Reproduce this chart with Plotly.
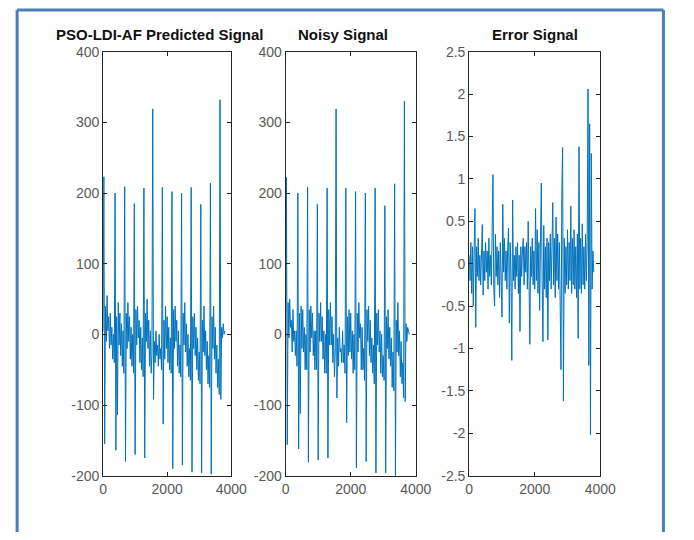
import plotly.graph_objects as go

# ---------------- data ----------------
sample_step = 25  # samples between listed values
predicted = [
    5, 223, -155, 40, -10, 55, 5, 25, -20, 30, -15, 10, -35, 0, -40,
    200, -164, 25, -114, 45, -15, 30, -30, 15, -45, 5, -55,
    209, -180, 30, -20, 45, -10, 25, -35, 10, -45, 0, -55,
    185, -170, 35, -15, 40, -5, 20, -40, 10, -50, -5, -60,
    207, -175, 30, -10, 50, -20, 20, -45, 5, -55, -30,
    319, -92, -10, -40, 5, -30, -15, -45, 0, -35, -20, -50,
    208, -127, 20, -35, 40, -20, 25, -40, 10, -50, -5, -55,
    202, -190, 35, -20, 40, -10, 20, -45, 5, -55, -15, -60,
    200, -185, 30, -15, 45, -25, 15, -45, 0, -60, -20, -65,
    208, -195, 25, -20, 30, -30, 10, -50, -5, -65, -25, -70,
    184, -196, 20, -25, 40, -30, 5, -50, -10, -70, -30, -75,
    214, -198, 25, -20, 40, -35, 10, -55, -15, -75, -35, -85,
    332, -92, 10, -5, 15, 0, 5,
]
noisy = [
    0, 222, -156, 45, -5, 50, 10, 20, -25, 35, -10, 5, -30, 5, -45,
    200, -162, 30, -112, 40, -20, 35, -25, 10, -50, 0, -50,
    208, -181, 35, -25, 40, -5, 30, -30, 5, -50, 5, -50,
    184, -178, 30, -10, 45, -10, 25, -35, 5, -55, 0, -55,
    207, -175, 35, -15, 45, -15, 25, -40, 0, -60, -25,
    319, -90, -5, -45, 10, -25, -20, -40, 5, -40, -15, -55,
    207, -125, 25, -30, 35, -25, 30, -35, 5, -55, 0, -50,
    202, -189, 30, -25, 45, -5, 15, -50, 10, -50, -20, -65,
    200, -180, 35, -10, 40, -30, 20, -40, -5, -55, -15, -70,
    207, -196, 30, -15, 35, -25, 5, -55, 0, -60, -30, -65,
    182, -196, 25, -20, 35, -35, 10, -45, -5, -75, -25, -80,
    213, -200, 20, -25, 45, -30, 5, -60, -10, -70, -40, -90,
    330, -95, 15, -10, 10, 5, 0,
]
error = [
    0.1, -0.2, 0.25, -0.35, 0.2, -0.5, 0.15, 0.65, -0.75, 0.2,
    -0.15, 0.3, -0.2, 0.1, -0.25, 0.2, 0.46, -0.37, 0.15, -0.2,
    0.25, -0.1, 0.15, -0.3, 0.3, -0.15, 0.1, -0.25, 0.2, 1.05,
    -0.3, -0.5, 0.35, -0.15, 0.2, -0.25, 0.15, -0.4, 0.25, -0.2,
    -0.63, 0.7, -0.1, 0.3, -0.2, 0.15, -0.3, 0.2, 0.42, -0.7,
    0.25, -0.15, -1.14, 0.75, -0.2, 0.1, -0.3, 0.2, -0.15, 0.25,
    -0.35, 0.1, -0.8, 0.2, -0.15, 0.15, 0.3, -0.25, 0.2, -0.1,
    0.25, -0.3, 0.5, -0.2, -0.95, 0.2, -0.15, 0.3, -0.25, 0.15,
    -0.3, 0.65, -0.2, 0.4, -0.35, 0.25, -0.55, 0.3, 0.95, -0.2,
    -0.92, 0.45, -0.3, 0.2, -0.4, 0.3, -0.9, 0.25, -0.2, 0.35,
    -0.3, 0.2, 0.72, -0.25, 0.3, -0.4, 0.55, -0.2, 0.35, -0.3,
    0.25, -0.45, -1.25, 0.8, 1.37, -1.62, 0.3, -0.35, 0.2, -0.25,
    0.4, -0.3, 0.25, -0.2, 0.68, -0.35, 0.3, -0.25, 0.4, -0.3,
    0.2, -0.4, 0.35, -0.88, 1.38, -0.3, 0.3, -0.35, 0.47, -0.25,
    0.2, -0.3, 0.35, -0.2, 0.25, 2.06, -1.2, 1.65, -2.02, 1.3,
    -0.3, 0.15, -0.1,
]

titles = ["PSO-LDI-AF Predicted Signal", "Noisy Signal", "Error Signal"]
x_ticks = [0, 2000, 4000]
ecg_ticks = [-200, -100, 0, 100, 200, 300, 400]
err_ticks = [-2.5, -2, -1.5, -1, -0.5, 0, 0.5, 1, 1.5, 2, 2.5]


def fmt(v):
    return "%g" % v


# ---------------- figure ----------------
W, H = 694, 540
fig = go.Figure()
line_color = "#0072BD"
series = [predicted, noisy, error]
axes_px = [(102, 234), (290, 424), (479, 614)]
top_px, bot_px = 45, 482
title_cx = [161, 349, 547]

for i, ys in enumerate(series):
    xs = [k * sample_step for k in range(len(ys))]
    suffix = "" if i == 0 else str(i + 1)
    fig.add_trace(go.Scatter(
        x=xs, y=ys, mode="lines",
        line=dict(color=line_color, width=1),
        xaxis="x" + suffix, yaxis="y" + suffix, showlegend=False,
    ))
    yt = err_ticks if i == 2 else ecg_ticks
    yr = [-2.5, 2.5] if i == 2 else [-200, 400]
    common = dict(
        showline=True, linecolor="#262626", linewidth=1, mirror="ticks",
        ticks="inside", ticklen=4, tickcolor="#262626", tickwidth=1,
        showgrid=False, zeroline=False,
        tickfont=dict(family="Liberation Sans, Arial", size=14, color="#595959"),
    )
    l, r = axes_px[i]
    fig.update_layout(**{
        "xaxis" + suffix: dict(
            domain=[l / W, r / W], range=[0, 4000], anchor="y" + suffix,
            tickvals=x_ticks, ticktext=[fmt(v) for v in x_ticks], **common),
        "yaxis" + suffix: dict(
            domain=[1 - bot_px / H, 1 - top_px / H], range=yr, anchor="x" + suffix,
            tickvals=yt, ticktext=[fmt(v) for v in yt], **common),
    })
    fig.add_annotation(
        x=title_cx[i] / W, y=1 - 27 / H, xref="paper", yref="paper",
        text="<b>" + titles[i] + "</b>", showarrow=False,
        font=dict(family="Liberation Sans, Arial", size=15, color="#111111"),
        xanchor="center", yanchor="middle",
    )

# blue frame (left, top, right edges) kept inside the page
frame = dict(color="#4a7ebb", width=3)
fx0, fx1, fy = 13.5 / W, 679 / W, 1 - 2 / H
fig.add_shape(type="line", xref="paper", yref="paper", x0=fx0, x1=fx0, y0=0, y1=fy, line=frame)
fig.add_shape(type="line", xref="paper", yref="paper", x0=fx1, x1=fx1, y0=0, y1=fy, line=frame)
fig.add_shape(type="line", xref="paper", yref="paper", x0=fx0, x1=fx1, y0=fy, y1=fy, line=frame)

fig.update_layout(
    width=W, height=H, margin=dict(l=0, r=0, t=0, b=0),
    template="plotly_white",
)

fig.write_html("out.html")
